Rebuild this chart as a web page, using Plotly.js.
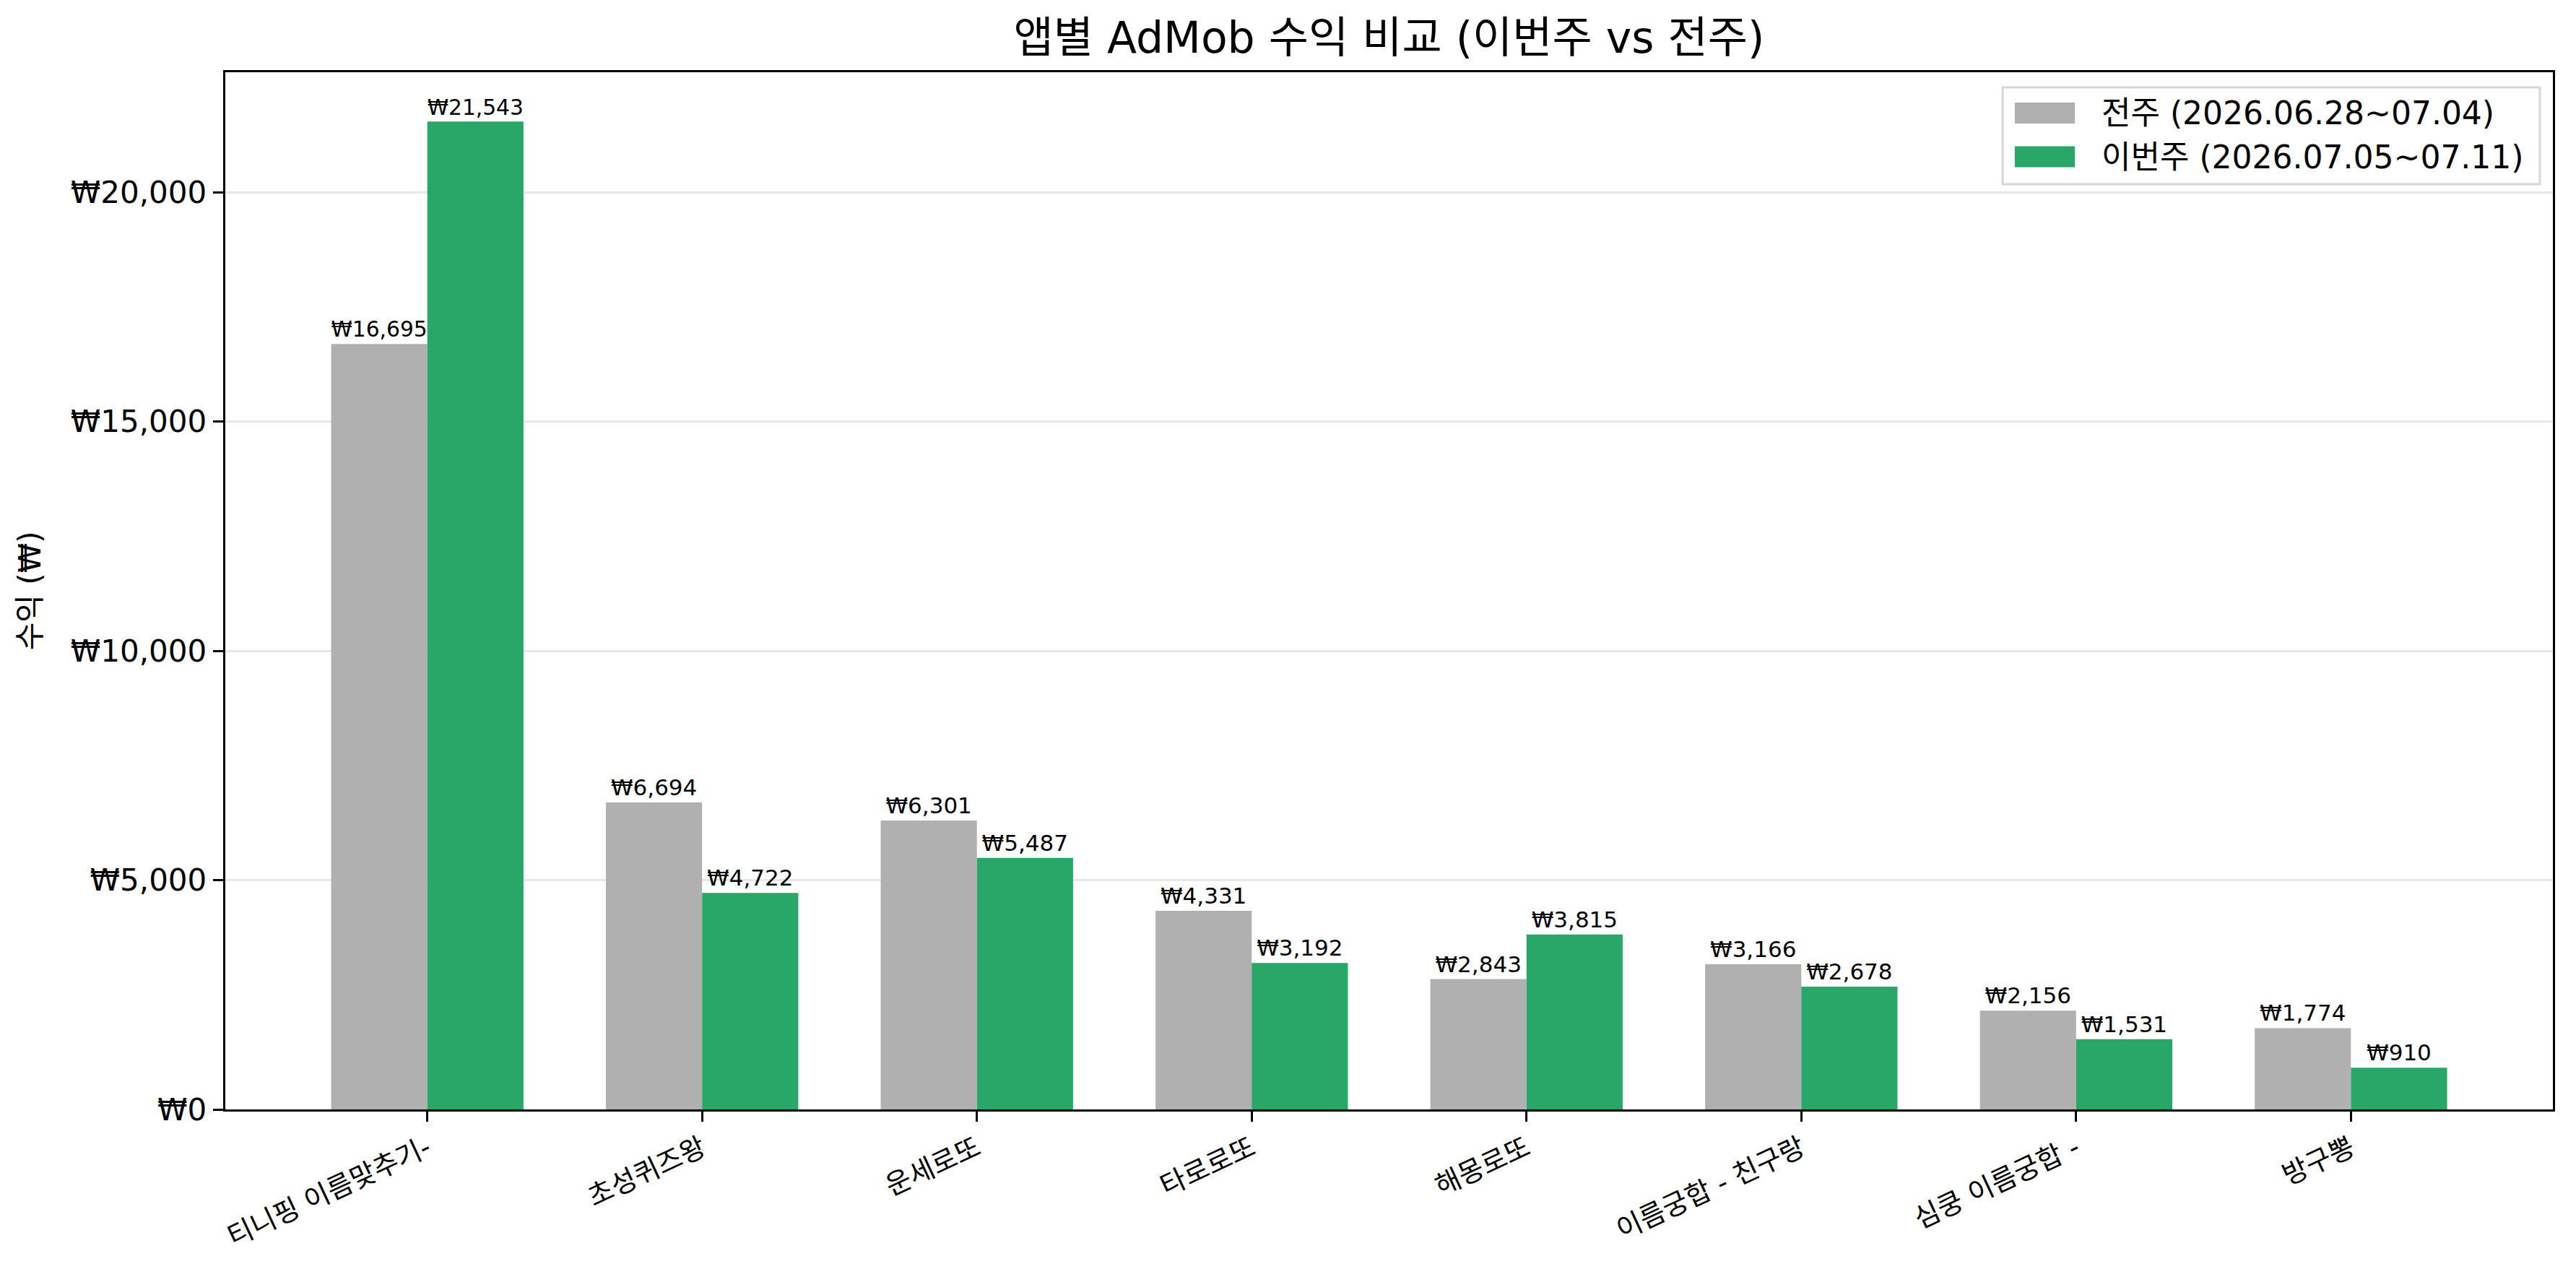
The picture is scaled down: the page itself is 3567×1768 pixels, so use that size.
<!DOCTYPE html>
<html>
<head>
<meta charset="utf-8">
<script src="https://cdn.plot.ly/plotly-3.0.1.min.js"></script>
<style>
  html, body { margin: 0; padding: 0; background: #fff; }
  #chart { width: 3567px; height: 1768px; }
</style>
</head>
<body>
<div id="chart"></div>
<script>
// app names and weekly AdMob revenue (KRW)
const apps = ["티니핑 이름맞추기-", "초성퀴즈왕", "운세로또", "타로로또", "해몽로또", "이름궁합 - 친구랑", "심쿵 이름궁합 -", "방구뽕"];
const lastWeek = [16695, 6694, 6301, 4331, 2843, 3166, 2156, 1774];
const thisWeek = [21543, 4722, 5487, 3192, 3815, 2678, 1531, 910];
const yTicks = [0, 5000, 10000, 15000, 20000];

const lastWeekName = "전주 (2026.06.28~07.04)";
const thisWeekName = "이번주 (2026.07.05~07.11)";
const colors = ["#b0b0b0", "#28a768"];

// latin glyphs from DejaVu Sans, hangul falls back to Noto CJK
const FONT = "DejaVu Sans, Noto Sans CJK KR, sans-serif";

function won(v) {
    return "₩" + v.toLocaleString("en-US");
}

function barTrace(name, values, color) {
    return {
        type: "bar",
        name: name,
        x: apps,
        y: values,
        marker: { color: color },
        text: values.map(won),
        textposition: "outside",
        textfont: { family: FONT, size: 31, color: "#000" },
        cliponaxis: false,
        showlegend: false
    };
}

let traces = [
    barTrace(lastWeekName, lastWeek, colors[0]),
    barTrace(thisWeekName, thisWeek, colors[1])
];

// hand drawn legend (matplotlib style wide swatches), paper coords
let legendNames = [lastWeekName, thisWeekName];
let rowY = [0.9606, 0.9185];
let shapes = [{
    type: "rect", xref: "paper", yref: "paper",
    x0: 0.7636, x1: 0.9944, y0: 0.8921, y1: 0.9854,
    line: { color: "#d6d6d6", width: 3 },
    fillcolor: "rgba(255,255,255,0.8)"
}];
let annotations = [];
legendNames.forEach((name, i) => {
    shapes.push({
        type: "rect", xref: "paper", yref: "paper",
        x0: 0.7688, x1: 0.7946, y0: rowY[i] - 0.0101, y1: rowY[i] + 0.0101,
        line: { width: 0 },
        fillcolor: colors[i]
    });
    annotations.push({
        xref: "paper", yref: "paper",
        x: 0.8055, y: rowY[i],
        xanchor: "left", yanchor: "middle",
        text: name, showarrow: false,
        font: { family: FONT, size: 44, color: "#000" }
    });
});

// y axis title
annotations.push({
    xref: "paper", yref: "paper",
    x: -0.084, y: 0.5,
    xanchor: "center", yanchor: "middle",
    textangle: -90,
    text: "수익 (₩)", showarrow: false,
    font: { family: FONT, size: 42, color: "#000" }
});

let layout = {
    width: 3567,
    height: 1768,
    margin: { l: 312, r: 32, t: 100, b: 232 },
    paper_bgcolor: "#fff",
    plot_bgcolor: "#fff",
    font: { family: FONT, size: 42, color: "#000" },
    barmode: "group",
    bargap: 0.3,
    bargroupgap: 0,
    showlegend: false,
    shapes: shapes,
    annotations: annotations,
    title: {
        text: "앱별 AdMob 수익 비교 (이번주 vs 전주)",
        font: { family: FONT, size: 60, color: "#000" },
        x: 0.5 + (312 - 32) / 2 / 3567,
        xanchor: "center",
        y: 1 - 52 / 1768,
        yanchor: "middle"
    },
    xaxis: {
        type: "category",
        range: [-0.735, 7.735],
        tickangle: -25,
        tickfont: { family: FONT, size: 38, color: "#000" },
        ticks: "outside",
        ticklen: 14,
        tickwidth: 3,
        tickcolor: "#000",
        showline: true,
        linecolor: "#000",
        linewidth: 3.3,
        mirror: true,
        showgrid: false,
        zeroline: false
    },
    yaxis: {
        range: [0, 22620],
        tickvals: yTicks,
        ticktext: yTicks.map(won),
        tickfont: { family: FONT, size: 42, color: "#000" },
        ticks: "outside",
        ticklen: 14,
        tickwidth: 3,
        tickcolor: "#000",
        showline: true,
        linecolor: "#000",
        linewidth: 3.3,
        mirror: true,
        showgrid: true,
        gridcolor: "rgba(176,176,176,0.3)",
        gridwidth: 3,
        zeroline: false,
        layer: "above traces"
    }
};

Plotly.newPlot("chart", traces, layout, { displayModeBar: false, staticPlot: true });
</script>
</body>
</html>
